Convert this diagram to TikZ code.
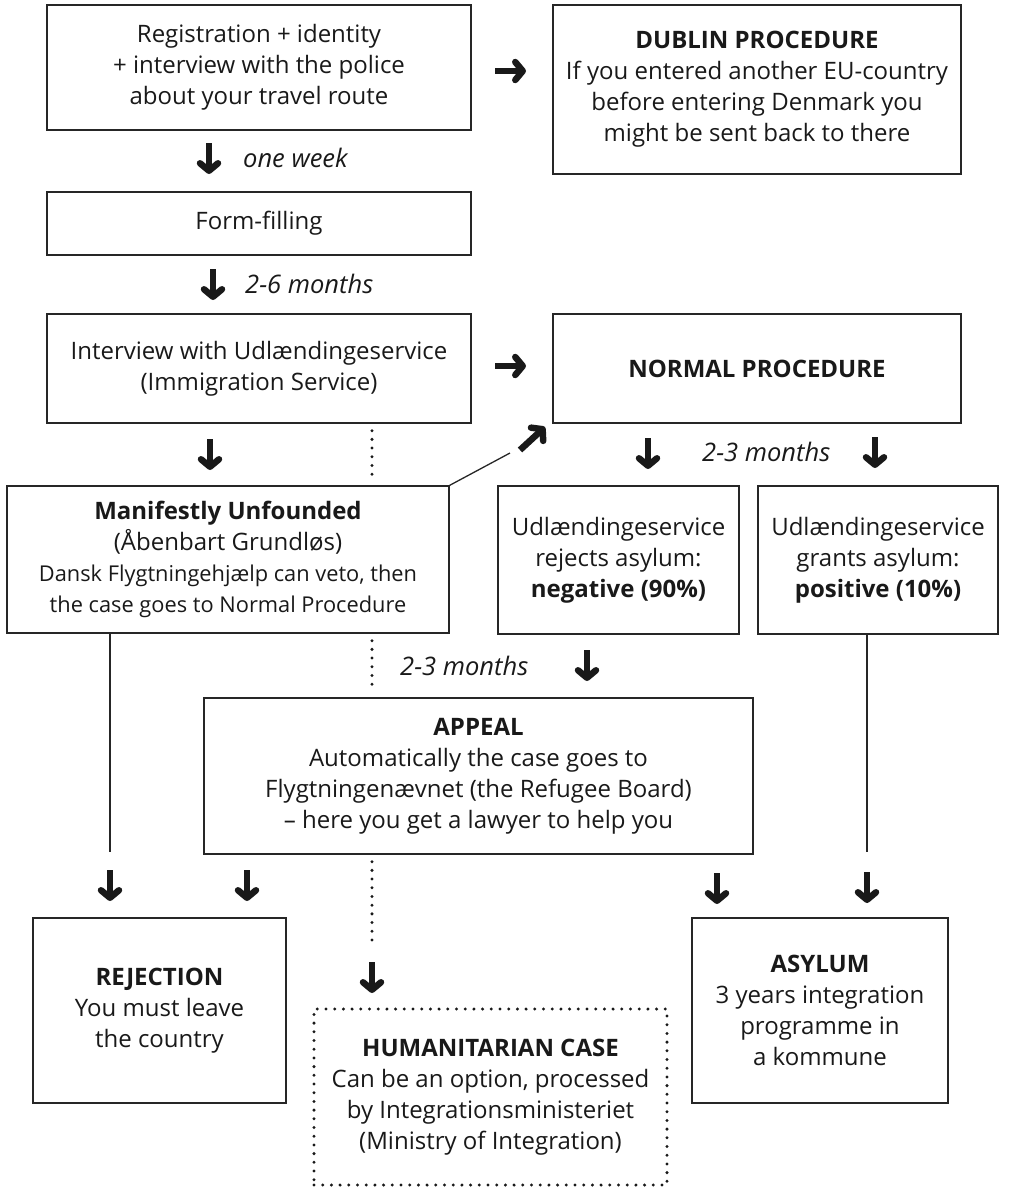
\documentclass[tikz,border=0pt]{standalone}
\usepackage{fontspec}
\setmainfont{Open Sans}
\usepackage{tikz}
\usetikzlibrary{arrows}
\usetikzlibrary{arrows.meta}

\begin{document}
\begin{tikzpicture}[x=1pt,y=-1pt,
>={Straight Barb[length=7.5pt,width=18pt,round]}]
     \tikzstyle{box}=[draw=black!85,line width=1.3pt,align=center,inner sep=0pt,
       text=black!90,font=\fontsize{24}{31}\selectfont]
     \tikzstyle{dots}=[draw=black!90,line width=3.3pt,line cap=round,dash pattern=on 0pt off 8.7pt]
     \tikzstyle{edge}=[draw=black!85,line width=1.3pt]
     \tikzstyle{fat}=[draw=black!90,line width=6.5pt,->]
     \tikzstyle{time}=[anchor=west,inner sep=0pt,text=black!90,font=\fontsize{25.5}{31}\selectfont\itshape]
     \useasboundingbox (0,0) rectangle (1024,1187);

     \node[box,minimum width=424pt,minimum height=125pt] (reg) at (259,67.5)
       {Registration + identity\\+ interview with the police\\about your travel route};
     \node[box,minimum width=424pt,minimum height=63pt] (form) at (259,223.5) {Form-filling};
     \node[box,minimum width=424pt,minimum height=109pt] (interview) at (259,368.5)
       {Interview with Udlændingeservice\\(Immigration Service)};
     \node[box,minimum width=408pt,minimum height=169pt] (dublin) at (757,89.5)
       {\textbf{DUBLIN PROCEDURE}\\If you entered another EU-country\\before entering Denmark you\\might be sent back to there};
     \node[box,minimum width=408pt,minimum height=109pt] (normal) at (757,368.5) {\textbf{NORMAL PROCEDURE}};
     \node[box,minimum width=442pt,minimum height=147pt] (manif) at (228,559.5)
       {\textbf{Manifestly Unfounded}\\(Åbenbart Grundløs)\\{\fontsize{21.8}{28.5}\selectfont Dansk Flygtningehjælp can veto, then}\\{\fontsize{21.8}{28.5}\selectfont the case goes to Normal Procedure}};
     \node[box,minimum width=241pt,minimum height=148pt] (reject) at (618.5,560)
       {Udlændingeservice\\rejects asylum:\\\textbf{negative (90\%)}};
     \node[box,minimum width=240pt,minimum height=148pt] (grant) at (878,560)
       {Udlændingeservice\\grants asylum:\\\textbf{positive (10\%)}};
     \node[box,minimum width=549pt,minimum height=156pt] (appeal) at (478.5,776)
       {\textbf{APPEAL}\\Automatically the case goes to\\Flygtningenævnet (the Refugee Board)\\– here you get a lawyer to help you};
     \node[box,minimum width=253pt,minimum height=185pt] (rejection) at (159.5,1010.5)
       {\textbf{REJECTION}\\You must leave\\the country};
     \node[box,dots,minimum width=353pt,minimum height=176pt] (human) at (490.5,1097)
       {\textbf{HUMANITARIAN CASE}\\Can be an option, processed\\by Integrationsministeriet\\(Ministry of Integration)};
     \node[box,minimum width=256pt,minimum height=185pt] (asylum) at (820,1010.5)
       {\textbf{ASYLUM}\\3 years integration\\programme in\\a kommune};

     \node[time] (t1) at (243,158) {one week};
     \node[time] (t2) at (245,284) {2-6 months};
     \node[time] (t3) at (702,452) {2-3 months};
     \node[time] (t4) at (400,666) {2-3 months};

     % helper points
     \coordinate (dx) at (372,0);
     \coordinate (dend) at (372,947);
     \coordinate (vl) at (110,852);
     \coordinate (vr) at (867,852);
     \coordinate (dg) at (510,453);

     \draw[edge] (manif.north east) -- (dg);
     \draw[edge] (manif.south -| vl) -- (vl);
     \draw[edge] (grant.south -| vr) -- (vr);

     \draw[dots] ([yshift=-7pt]interview.south -| dx) -- ([yshift=5pt]manif.north -| dx);
     \draw[dots] ([yshift=-7pt]manif.south -| dx) -- ([yshift=5pt]appeal.north -| dx);
     \draw[dots] ([yshift=-7pt]appeal.south -| dx) -- (dend);

     % fat arrows
     \coordinate (d1) at (209,143);
     \coordinate (d2) at (213,269);
     \coordinate (d3) at (210,439);
     \coordinate (d4) at (648,438);
     \coordinate (d5) at (875,437);
     \coordinate (d6) at (587,650);
     \coordinate (d7) at (110,870);
     \coordinate (d8) at (247,870);
     \coordinate (d9) at (717,873);
     \coordinate (d10) at (867,872);
     \coordinate (d11) at (372,962);
     \draw[fat] (d1) -- ++(0,31);
     \draw[fat] (d2) -- ++(0,31);
     \draw[fat] (d3) -- ++(0,31);
     \draw[fat] (d4) -- ++(0,31);
     \draw[fat] (d5) -- ++(0,31);
     \draw[fat] (d6) -- ++(0,31);
     \draw[fat] (d7) -- ++(0,31);
     \draw[fat] (d8) -- ++(0,31);
     \draw[fat] (d9) -- ++(0,31);
     \draw[fat] (d10) -- ++(0,31);
     \draw[fat] (d11) -- ++(0,31);
     \draw[fat] (495,71) -- (526,71);
     \draw[fat] (495,366) -- (526,366);
     \draw[fat] (520,450) -- (545,427);
\end{tikzpicture}
\end{document}
